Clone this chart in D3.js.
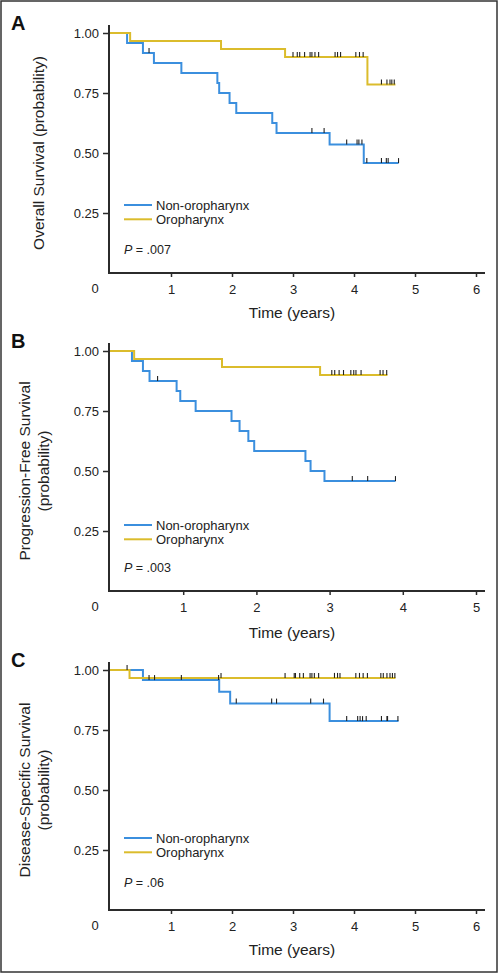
<!DOCTYPE html>
<html><head><meta charset="utf-8">
<script src="https://cdn.jsdelivr.net/npm/d3@7"></script>
<style>
html,body{margin:0;padding:0;background:#fff;}
svg{display:block;font-family:"Liberation Sans",Arial,Helvetica,sans-serif;}
</style></head>
<body>
<svg id="chart" width="500" height="974"></svg>
<script>
// ---------- DATA ----------
const categories = ["Non-oropharynx", "Oropharynx"];
const panelLetters = ["A", "B", "C"];
const yTitles = [["Overall Survival (probability)"], ["Progression-Free Survival", "(probability)"], ["Disease-Specific Survival", "(probability)"]];
const pValues = [".007", ".003", ".06"];
const xTicksAC = [1, 2, 3, 4, 5, 6];
const xTicksB = [1, 2, 3, 4, 5];
const yTicks = [0.25, 0.50, 0.75, 1.00];

// Panel A: overall survival
const osNonTimes = [0, 0.28, 0.54, 0.72, 1.17, 1.76, 1.79, 1.96, 2.07, 2.66, 2.73, 3.60, 4.16];
const osNonSurv  = [1, 0.958, 0.917, 0.875, 0.833, 0.792, 0.750, 0.708, 0.667, 0.625, 0.583, 0.535, 0.458];
const osNonEnd = 4.73;
const osNonCens = [0.64, 3.31, 3.51, 3.88, 4.05, 4.08, 4.13, 4.21, 4.45, 4.53, 4.56, 4.73];
const osOroTimes = [0, 0.33, 1.82, 2.87, 4.22];
const osOroSurv  = [1, 0.967, 0.933, 0.900, 0.785];
const osOroEnd = 4.68;
const osOroCens = [3.00, 3.07, 3.11, 3.19, 3.28, 3.31, 3.36, 3.42, 3.69, 3.73, 3.78, 4.03, 4.09, 4.15, 4.45, 4.54, 4.59, 4.62, 4.66];

// Panel B: progression-free survival
const pfsNonTimes = [0, 0.30, 0.45, 0.54, 0.91, 0.96, 1.17, 1.66, 1.77, 1.89, 1.97, 2.67, 2.74, 2.93];
const pfsNonSurv  = [1, 0.958, 0.917, 0.875, 0.833, 0.792, 0.750, 0.708, 0.667, 0.625, 0.583, 0.542, 0.500, 0.458];
const pfsNonEnd = 3.90;
const pfsNonCens = [0.65, 3.31, 3.52, 3.90];
const pfsOroTimes = [0, 0.33, 1.53, 2.87];
const pfsOroSurv  = [1, 0.967, 0.933, 0.900];
const pfsOroEnd = 3.79;
const pfsOroCens = [3.03, 3.07, 3.13, 3.19, 3.29, 3.33, 3.36, 3.43, 3.69, 3.73, 3.78];

// Panel C: disease-specific survival
const dssNonTimes = [0, 0.54, 1.79, 1.97, 3.60];
const dssNonSurv  = [1, 0.958, 0.909, 0.860, 0.787];
const dssNonEnd = 4.73;
const dssNonCens = [0.28, 0.64, 0.73, 1.17, 1.78, 2.07, 2.65, 2.73, 3.29, 3.50, 3.88, 4.06, 4.10, 4.14, 4.20, 4.45, 4.54, 4.55, 4.72];
const dssOroTimes = [0, 0.32];
const dssOroSurv  = [1, 0.967];
const dssOroEnd = 4.68;
const dssOroCens = [1.82, 2.87, 3.02, 3.04, 3.11, 3.17, 3.28, 3.31, 3.35, 3.42, 3.68, 3.73, 3.77, 4.03, 4.09, 4.15, 4.22, 4.44, 4.48, 4.54, 4.59, 4.63, 4.67];

// ---------- LAYOUT ----------
const colors = {"Non-oropharynx": "#3b8fde", "Oropharynx": "#dbbc2c"};
const panels = [
  {letter: panelLetters[0], yTitle: yTitles[0], p: pValues[0], xMax: 6, xTicks: xTicksAC, bottom: 273,
   letterY: 30, tickLabY: 293, xTitleY: 318, legY: 205, pY: 254,
   series: [
     {name: categories[0], times: osNonTimes, surv: osNonSurv, end: osNonEnd, cens: osNonCens},
     {name: categories[1], times: osOroTimes, surv: osOroSurv, end: osOroEnd, cens: osOroCens}]},
  {letter: panelLetters[1], yTitle: yTitles[1], p: pValues[1], xMax: 5, xTicks: xTicksB, bottom: 591,
   letterY: 348, tickLabY: 611, xTitleY: 638, legY: 525, pY: 572,
   series: [
     {name: categories[0], times: pfsNonTimes, surv: pfsNonSurv, end: pfsNonEnd, cens: pfsNonCens},
     {name: categories[1], times: pfsOroTimes, surv: pfsOroSurv, end: pfsOroEnd, cens: pfsOroCens}]},
  {letter: panelLetters[2], yTitle: yTitles[2], p: pValues[2], xMax: 6, xTicks: xTicksAC, bottom: 910,
   letterY: 667, tickLabY: 930, xTitleY: 955, legY: 838, pY: 887,
   series: [
     {name: categories[0], times: dssNonTimes, surv: dssNonSurv, end: dssNonEnd, cens: dssNonCens},
     {name: categories[1], times: dssOroTimes, surv: dssOroSurv, end: dssOroEnd, cens: dssOroCens}]}
];

const svg = d3.select("#chart");
svg.append("rect").attr("x", 1).attr("y", 1).attr("width", 496).attr("height", 971)
  .attr("fill", "none").attr("stroke", "#333").attr("stroke-width", 1.5);

const axisColor = "#2b2b2b";
const x0 = 110, x1 = 476, plotH = 240;

panels.forEach(P => {
  const g = svg.append("g");
  const x = d3.scaleLinear().domain([0, P.xMax]).range([x0, x1]);
  const y = d3.scaleLinear().domain([0, 1]).range([P.bottom, P.bottom - plotH]);

  // axis lines
  g.append("line").attr("x1", x0 - 1).attr("x2", x0 - 1).attr("y1", y(1) - 8).attr("y2", P.bottom + 1)
    .attr("stroke", axisColor).attr("stroke-width", 2);
  g.append("line").attr("x1", x0 - 2).attr("x2", 485).attr("y1", P.bottom).attr("y2", P.bottom)
    .attr("stroke", axisColor).attr("stroke-width", 2);

  // y axis ticks
  const ya = g.append("g").attr("transform", `translate(${x0 - 1},0)`)
    .call(d3.axisLeft(y).tickValues(yTicks).tickFormat(d3.format(".2f")).tickSize(6).tickSizeOuter(0).tickPadding(4));
  ya.select(".domain").remove();
  ya.selectAll(".tick line").attr("stroke", axisColor).attr("stroke-width", 1.5);
  ya.selectAll(".tick text").attr("font-size", 13).attr("fill", "#222")
    .attr("font-family", '"Liberation Sans",Arial,sans-serif');

  // x axis ticks
  const xa = g.append("g").attr("transform", `translate(0,${P.bottom})`)
    .call(d3.axisBottom(x).tickValues(P.xTicks).tickFormat(d3.format("d")).tickSize(4).tickSizeOuter(0).tickPadding(8));
  xa.select(".domain").remove();
  xa.selectAll(".tick line").attr("stroke", axisColor).attr("stroke-width", 1.5);
  xa.selectAll(".tick text").attr("font-size", 13).attr("fill", "#222")
    .attr("font-family", '"Liberation Sans",Arial,sans-serif');

  // origin label
  g.append("text").attr("x", 95).attr("y", P.tickLabY).attr("text-anchor", "middle")
    .attr("font-size", 13).attr("fill", "#222").text("0");

  // axis titles
  g.append("text").attr("x", 292).attr("y", P.xTitleY).attr("text-anchor", "middle")
    .attr("font-size", 15.5).attr("fill", "#222").text("Time (years)");
  const cy = y(0.5);
  if (P.yTitle.length === 1) {
    g.append("text").attr("transform", `translate(44,${cy}) rotate(-90)`).attr("text-anchor", "middle")
      .attr("font-size", 15.5).attr("fill", "#222").text(P.yTitle[0]);
  } else {
    P.yTitle.forEach((t, i) => {
      g.append("text").attr("transform", `translate(${30 + i * 18.5},${cy}) rotate(-90)`).attr("text-anchor", "middle")
        .attr("font-size", 15.5).attr("fill", "#222").text(t);
    });
  }

  // panel letter
  g.append("text").attr("x", 11).attr("y", P.letterY).attr("font-size", 20).attr("font-weight", "bold")
    .attr("fill", "#111").text(P.letter);

  // curves
  const line = d3.line().x(d => x(d[0])).y(d => y(d[1])).curve(d3.curveStepAfter);
  P.series.forEach(s => {
    const pts = s.times.map((t, i) => [t, s.surv[i]]);
    pts.push([s.end, s.surv[s.surv.length - 1]]);
    g.append("path").attr("d", line(pts)).attr("fill", "none")
      .attr("stroke", colors[s.name]).attr("stroke-width", 2).attr("stroke-linejoin", "miter");
  });
  P.series.forEach(s => {
    const survAt = t => {
      let v = s.surv[0];
      s.times.forEach((tt, i) => { if (tt <= t) v = s.surv[i]; });
      return v;
    };
    g.selectAll(null).data(s.cens).enter().append("line")
      .attr("x1", d => x(d)).attr("x2", d => x(d))
      .attr("y1", d => y(survAt(d)) - 5).attr("y2", d => y(survAt(d)))
      .attr("stroke", "#222").attr("stroke-width", 1.1);
  });

  // legend
  categories.forEach((c, i) => {
    const ly = P.legY + i * 14.3;
    g.append("line").attr("x1", 124).attr("x2", 152).attr("y1", ly).attr("y2", ly)
      .attr("stroke", colors[c]).attr("stroke-width", 2);
    g.append("text").attr("x", 156).attr("y", ly + 4.5).attr("font-size", 13).attr("fill", "#222").text(c);
  });
  const pt = g.append("text").attr("x", 124).attr("y", P.pY).attr("font-size", 12.5).attr("fill", "#222");
  pt.append("tspan").attr("font-style", "italic").text("P");
  pt.append("tspan").text(" = " + P.p);
});
</script>
</body></html>
